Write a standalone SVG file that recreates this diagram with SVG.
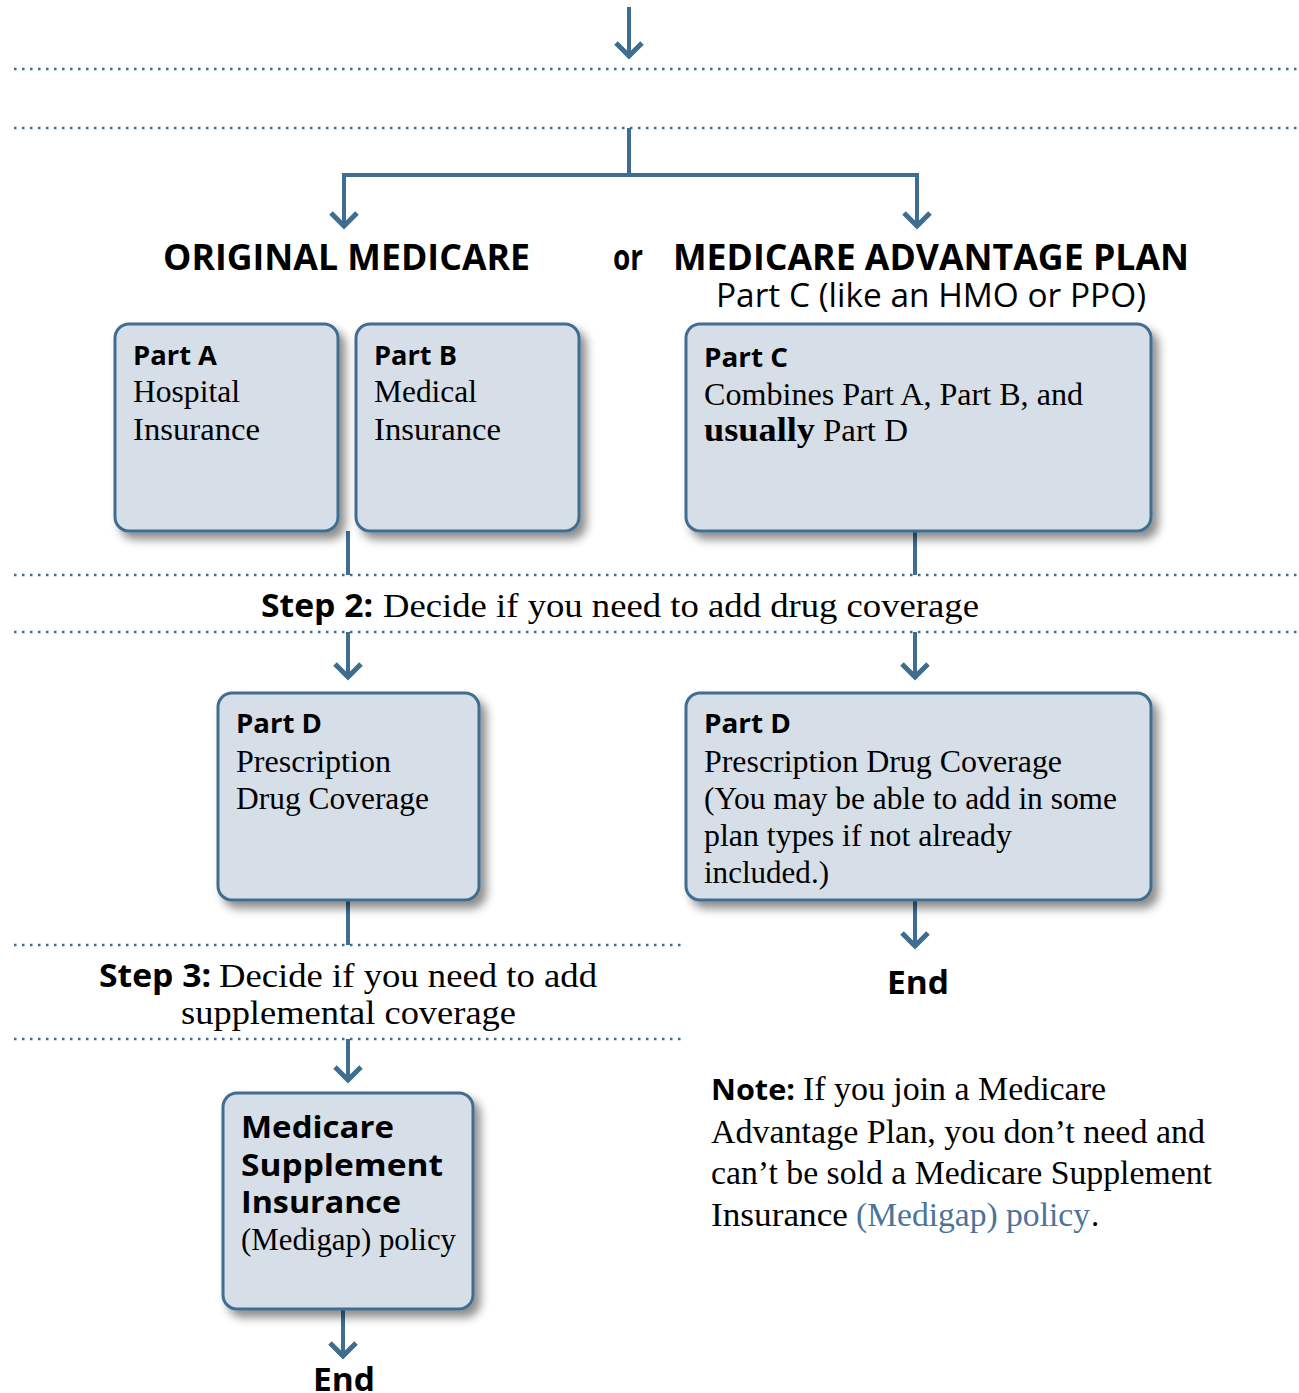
<svg xmlns="http://www.w3.org/2000/svg" width="1299" height="1393" viewBox="0 0 1299 1393">
<defs>
<filter id="sh" x="-10%" y="-10%" width="130%" height="130%">
<feDropShadow dx="6" dy="7" stdDeviation="5" flood-color="#000" flood-opacity="0.45"/>
</filter>
<style>
.box{fill:#d6dee8;stroke:#3f6d90;stroke-width:3;filter:url(#sh)}
.dot{stroke:#3f6d90;stroke-width:2.5;stroke-dasharray:2.5 5.5;fill:none}
.ln{stroke:#3f6d90;stroke-width:4;fill:none}
.ah{stroke:#3f6d90;stroke-width:5;fill:none;stroke-linecap:butt;stroke-linejoin:miter}
.b{font-family:"Open Sans","Liberation Sans",sans-serif;font-weight:bold;fill:#000}
.s{font-family:"Liberation Serif","DejaVu Serif",serif;fill:#000}
.h{font-family:"Open Sans","Liberation Sans",sans-serif;font-weight:bold;font-size:35px;fill:#000}
.c{font-family:"Open Sans","Liberation Sans",sans-serif;font-size:32px;fill:#000}
.blue{fill:#4a7499}
</style>
</defs>

<g id="guides">
<line class="dot" x1="14" y1="69" x2="1299" y2="69"/>
<line class="dot" x1="14" y1="128" x2="1299" y2="128"/>
<line class="dot" x1="14" y1="575" x2="1299" y2="575"/>
<line class="dot" x1="14" y1="632" x2="1299" y2="632"/>
<line class="dot" x1="14" y1="945" x2="683" y2="945"/>
<line class="dot" x1="14" y1="1039" x2="683" y2="1039"/>
</g>

<g id="connectors">
<line class="ln" x1="629" y1="7" x2="629" y2="55"/>
<polyline class="ah" points="616,43 629,56 642,43"/>
<line class="ln" x1="629" y1="128" x2="629" y2="175"/>
<polyline class="ln" stroke-width="5" points="344,226 344,175 917,175 917,226"/>
<polyline class="ah" points="331,213 344,226 357,213"/>
<polyline class="ah" points="904,213 917,226 930,213"/>
<line class="ln" x1="348" y1="531" x2="348" y2="575"/>
<line class="ln" x1="915" y1="531" x2="915" y2="575"/>
<line class="ln" x1="348" y1="632" x2="348" y2="676"/>
<polyline class="ah" points="335,664 348,677 361,664"/>
<line class="ln" x1="915" y1="632" x2="915" y2="676"/>
<polyline class="ah" points="902,664 915,677 928,664"/>
<line class="ln" x1="348" y1="900" x2="348" y2="945"/>
<line class="ln" x1="915" y1="900" x2="915" y2="945"/>
<polyline class="ah" points="902,933 915,946 928,933"/>
<line class="ln" x1="348" y1="1039" x2="348" y2="1079"/>
<polyline class="ah" points="335,1067 348,1080 361,1067"/>
<line class="ln" x1="343" y1="1309" x2="343" y2="1355"/>
<polyline class="ah" points="330,1343 343,1356 356,1343"/>
</g>

<g id="headings">
<text class="h" x="163" y="270" textLength="367" lengthAdjust="spacingAndGlyphs">ORIGINAL MEDICARE</text>
<text class="h" x="613" y="270" font-size="27" textLength="30" lengthAdjust="spacingAndGlyphs">or</text>
<text class="h" x="673" y="270" textLength="516" lengthAdjust="spacingAndGlyphs">MEDICARE ADVANTAGE PLAN</text>
<text class="c" x="716" y="307" textLength="430" lengthAdjust="spacingAndGlyphs">Part C (like an HMO or PPO)</text>
</g>

<g id="partA">
<rect class="box" x="115" y="324" width="223" height="207" rx="14"/>
<text class="b" x="133" y="365" font-size="27" textLength="84" lengthAdjust="spacingAndGlyphs">Part A</text>
<text class="s" x="133" y="402" font-size="31" textLength="107" lengthAdjust="spacingAndGlyphs">Hospital</text>
<text class="s" x="133" y="440" font-size="31" textLength="127" lengthAdjust="spacingAndGlyphs">Insurance</text>
</g>

<g id="partB">
<rect class="box" x="356" y="324" width="223" height="207" rx="14"/>
<text class="b" x="374" y="365" font-size="27" textLength="83" lengthAdjust="spacingAndGlyphs">Part B</text>
<text class="s" x="374" y="402" font-size="31" textLength="103" lengthAdjust="spacingAndGlyphs">Medical</text>
<text class="s" x="374" y="440" font-size="31" textLength="127" lengthAdjust="spacingAndGlyphs">Insurance</text>
</g>

<g id="partC">
<rect class="box" x="686" y="324" width="465" height="207" rx="14"/>
<text class="b" x="704" y="367" font-size="27" textLength="84" lengthAdjust="spacingAndGlyphs">Part C</text>
<text class="s" x="704" y="405" font-size="31" textLength="379" lengthAdjust="spacingAndGlyphs">Combines Part A, Part B, and</text>
<text class="s" x="704" y="441" font-size="34" font-weight="bold" textLength="111" lengthAdjust="spacingAndGlyphs">usually</text>
<text class="s" x="823" y="441" font-size="31" textLength="85" lengthAdjust="spacingAndGlyphs">Part D</text>
</g>

<g id="step2">
<text class="b" x="261" y="617" font-size="32" textLength="112" lengthAdjust="spacingAndGlyphs">Step 2:</text>
<text class="s" x="383" y="617" font-size="34" textLength="596" lengthAdjust="spacingAndGlyphs">Decide if you need to add drug coverage</text>
</g>

<g id="partD1">
<rect class="box" x="218" y="693" width="261" height="207" rx="14"/>
<text class="b" x="236" y="733" font-size="27" textLength="86" lengthAdjust="spacingAndGlyphs">Part D</text>
<text class="s" x="236" y="772" font-size="31" textLength="155" lengthAdjust="spacingAndGlyphs">Prescription</text>
<text class="s" x="236" y="809" font-size="31" textLength="193" lengthAdjust="spacingAndGlyphs">Drug Coverage</text>
</g>

<g id="partD2">
<rect class="box" x="686" y="693" width="465" height="207" rx="14"/>
<text class="b" x="704" y="733" font-size="27" textLength="87" lengthAdjust="spacingAndGlyphs">Part D</text>
<text class="s" x="704" y="772" font-size="31" textLength="358" lengthAdjust="spacingAndGlyphs">Prescription Drug Coverage</text>
<text class="s" x="704" y="809" font-size="31" textLength="413" lengthAdjust="spacingAndGlyphs">(You may be able to add in some</text>
<text class="s" x="704" y="846" font-size="31" textLength="308" lengthAdjust="spacingAndGlyphs">plan types if not already</text>
<text class="s" x="704" y="883" font-size="31" textLength="125" lengthAdjust="spacingAndGlyphs">included.)</text>
</g>

<g id="end1">
<text class="b" x="887" y="994" font-size="32" textLength="62" lengthAdjust="spacingAndGlyphs">End</text>
</g>

<g id="step3">
<text class="b" x="99" y="987" font-size="32" textLength="112" lengthAdjust="spacingAndGlyphs">Step 3:</text>
<text class="s" x="219" y="987" font-size="34" textLength="378" lengthAdjust="spacingAndGlyphs">Decide if you need to add</text>
<text class="s" x="181" y="1024" font-size="34" textLength="335" lengthAdjust="spacingAndGlyphs">supplemental coverage</text>
</g>

<g id="medigap">
<rect class="box" x="223" y="1093" width="250" height="216" rx="14"/>
<text class="b" x="241" y="1138" font-size="31" textLength="153" lengthAdjust="spacingAndGlyphs">Medicare</text>
<text class="b" x="241" y="1176" font-size="31" textLength="202" lengthAdjust="spacingAndGlyphs">Supplement</text>
<text class="b" x="241" y="1213" font-size="31" textLength="160" lengthAdjust="spacingAndGlyphs">Insurance</text>
<text class="s" x="241" y="1250" font-size="31" textLength="215" lengthAdjust="spacingAndGlyphs">(Medigap) policy</text>
</g>

<g id="end2">
<text class="b" x="313" y="1391" font-size="32" textLength="62" lengthAdjust="spacingAndGlyphs">End</text>
</g>

<g id="note">
<text class="b" x="711" y="1100" font-size="29" textLength="84" lengthAdjust="spacingAndGlyphs">Note:</text>
<text class="s" x="803" y="1100" font-size="33" textLength="303" lengthAdjust="spacingAndGlyphs">If you join a Medicare</text>
<text class="s" x="711" y="1143" font-size="33" textLength="494" lengthAdjust="spacingAndGlyphs">Advantage Plan, you don’t need and</text>
<text class="s" x="711" y="1184" font-size="33" textLength="501" lengthAdjust="spacingAndGlyphs">can’t be sold a Medicare Supplement</text>
<text class="s" x="711" y="1226" font-size="33" textLength="137" lengthAdjust="spacingAndGlyphs">Insurance</text>
<text class="s blue" x="856" y="1226" font-size="33" textLength="234" lengthAdjust="spacingAndGlyphs">(Medigap) policy</text>
<text class="s" x="1091" y="1226" font-size="33">.</text>
</g>
</svg>
